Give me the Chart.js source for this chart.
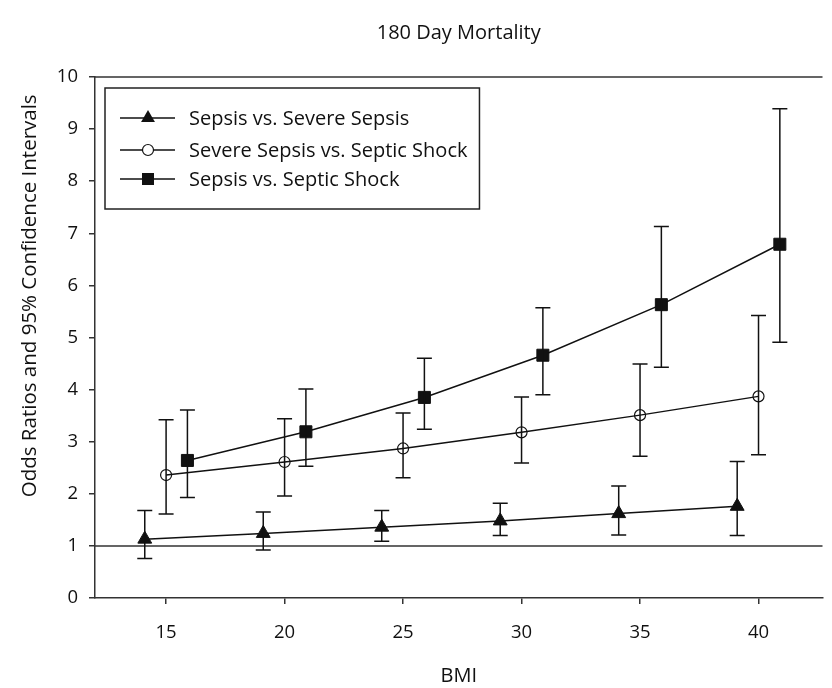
<!DOCTYPE html>
<html>
<head>
<meta charset="utf-8">
<title>180 Day Mortality</title>
<script src="https://cdn.jsdelivr.net/npm/chart.js@4"></script>
<style>
  body { margin: 0; background: #fff; }
  #wrap { width: 832px; height: 688px; }
</style>
</head>
<body>
<div id="wrap"><canvas id="chart" width="832" height="688"></canvas></div>
<script>
// values
const seriesNames = ["Sepsis vs. Severe Sepsis", "Severe Sepsis vs. Septic Shock", "Sepsis vs. Septic Shock"];

const sevBmi = [14.1, 19.1, 24.1, 29.1, 34.1, 39.1];
const sevOR = [1.13, 1.24, 1.36, 1.48, 1.62, 1.76];
const sevLow = [0.76, 0.92, 1.09, 1.20, 1.21, 1.20];
const sevHigh = [1.68, 1.65, 1.68, 1.82, 2.15, 2.62];

const shockBmi = [15, 20, 25, 30, 35, 40];
const shockOR = [2.36, 2.61, 2.87, 3.18, 3.51, 3.87];
const shockLow = [1.61, 1.96, 2.31, 2.59, 2.72, 2.75];
const shockHigh = [3.42, 3.44, 3.55, 3.86, 4.49, 5.42];

const bothBmi = [15.9, 20.9, 25.9, 30.9, 35.9, 40.9];
const bothOR = [2.64, 3.19, 3.85, 4.66, 5.63, 6.79];
const bothLow = [1.93, 2.53, 3.24, 3.90, 4.43, 4.91];
const bothHigh = [3.61, 4.01, 4.60, 5.57, 7.13, 9.39];

const xTicks = [15, 20, 25, 30, 35, 40];
const yTicks = [0, 1, 2, 3, 4, 5, 6, 7, 8, 9, 10];
const refLine = 1;
const yTitle = "Odds Ratios and 95% Confidence Intervals";

const FONT = "'Open Sans', 'Noto Sans', sans-serif";
const INK = "#111";

function points(xs, ys) {
  return xs.map((x, i) => ({ x: x, y: ys[i] }));
}

const errors = [
  { low: sevLow, high: sevHigh },
  { low: shockLow, high: shockHigh },
  { low: bothLow, high: bothHigh }
];

// vertical CI whiskers with caps
const errorBars = {
  id: "errorBars",
  afterDatasetsDraw(chart) {
    const ctx = chart.ctx;
    const ys = chart.scales.y;
    ctx.save();
    ctx.strokeStyle = INK;
    ctx.lineWidth = 1.5;
    chart.data.datasets.forEach((ds, i) => {
      const meta = chart.getDatasetMeta(i);
      meta.data.forEach((pt, j) => {
        const y1 = ys.getPixelForValue(errors[i].low[j]);
        const y2 = ys.getPixelForValue(errors[i].high[j]);
        ctx.beginPath();
        ctx.moveTo(pt.x, y1);
        ctx.lineTo(pt.x, y2);
        ctx.moveTo(pt.x - 7.5, y1);
        ctx.lineTo(pt.x + 7.5, y1);
        ctx.moveTo(pt.x - 7.5, y2);
        ctx.lineTo(pt.x + 7.5, y2);
        ctx.stroke();
      });
    });
    ctx.restore();
  }
};

// reference line at OR = 1, the top frame and the y axis title
const frame = {
  id: "frame",
  beforeDatasetsDraw(chart) {
    const { ctx, chartArea: a } = chart;
    const y = chart.scales.y.getPixelForValue(refLine);
    ctx.save();
    ctx.strokeStyle = "#333";
    ctx.lineWidth = 1.5;
    ctx.beginPath();
    ctx.moveTo(a.left, y);
    ctx.lineTo(a.right, y);
    ctx.moveTo(a.left, a.top);
    ctx.lineTo(a.right, a.top);
    ctx.stroke();
    // title sits a bit above the middle of the axis, as in the original
    ctx.translate(30, a.top + (a.bottom - a.top) * 0.42);
    ctx.rotate(-Math.PI / 2);
    ctx.font = "20.5px " + FONT;
    ctx.fillStyle = INK;
    ctx.textAlign = "center";
    ctx.textBaseline = "middle";
    ctx.fillText(yTitle, 0, 0);
    ctx.restore();
  }
};

function marker(ctx, style, x, y) {
  ctx.beginPath();
  if (style === "triangle") {
    const r = 8;
    ctx.moveTo(x, y - r);
    ctx.lineTo(x + r * 0.866, y + r / 2);
    ctx.lineTo(x - r * 0.866, y + r / 2);
    ctx.closePath();
    ctx.fill();
  } else if (style === "circle") {
    ctx.arc(x, y, 5.5, 0, Math.PI * 2);
    ctx.fillStyle = "#fff";
    ctx.fill();
    ctx.fillStyle = INK;
    ctx.stroke();
  } else {
    ctx.rect(x - 6, y - 6, 12, 12);
    ctx.fill();
  }
}

const boxLegend = {
  id: "boxLegend",
  afterDraw(chart) {
    const { ctx, chartArea: a } = chart;
    const left = a.left + 10, top = a.top + 11;
    ctx.save();
    ctx.font = "20px " + FONT;
    const w = Math.max(...seriesNames.map(s => ctx.measureText(s).width));
    const boxW = 84 + w + 12, boxH = 121;
    ctx.fillStyle = "#fff";
    ctx.fillRect(left, top, boxW, boxH);
    ctx.strokeStyle = "#222";
    ctx.lineWidth = 1.5;
    ctx.strokeRect(left, top, boxW, boxH);
    const rows = [30, 62, 91];
    const styles = ["triangle", "circle", "rect"];
    seriesNames.forEach((name, i) => {
      const y = top + rows[i];
      ctx.strokeStyle = INK;
      ctx.fillStyle = INK;
      ctx.lineWidth = 1.5;
      ctx.beginPath();
      ctx.moveTo(left + 15, y);
      ctx.lineTo(left + 70, y);
      ctx.stroke();
      ctx.lineWidth = 1.2;
      marker(ctx, styles[i], left + 43, y);
      ctx.fillStyle = INK;
      ctx.textBaseline = "middle";
      ctx.textAlign = "left";
      ctx.fillText(name, left + 84, y + 1);
    });
    ctx.restore();
  }
};

const tickGrid = { drawOnChartArea: false, drawTicks: true, tickLength: 6, color: "#333", lineWidth: 1.5 };

new Chart(document.getElementById("chart"), {
  type: "scatter",
  data: {
    datasets: [
      {
        label: seriesNames[0],
        data: points(sevBmi, sevOR),
        showLine: true,
        borderColor: INK,
        borderWidth: 1.5,
        pointStyle: "triangle",
        pointRadius: 8,
        pointBackgroundColor: INK,
        pointBorderColor: INK,
        pointBorderWidth: 1
      },
      {
        label: seriesNames[1],
        data: points(shockBmi, shockOR),
        showLine: true,
        borderColor: INK,
        borderWidth: 1.5,
        pointStyle: "circle",
        pointRadius: 5.5,
        pointBackgroundColor: "rgba(0,0,0,0)",
        pointBorderColor: INK,
        pointBorderWidth: 1.2
      },
      {
        label: seriesNames[2],
        data: points(bothBmi, bothOR),
        showLine: true,
        borderColor: INK,
        borderWidth: 1.5,
        pointStyle: "rect",
        pointRadius: 8.5,
        pointBackgroundColor: INK,
        pointBorderColor: INK,
        pointBorderWidth: 1
      }
    ]
  },
  options: {
    responsive: false,
    animation: false,
    layout: { padding: { left: 0, right: 0, top: 0, bottom: 0 } },
    plugins: {
      legend: { display: false },
      tooltip: { enabled: false },
      title: {
        display: true,
        text: "180 Day Mortality",
        fullSize: false,
        color: INK,
        font: { family: FONT, size: 20, weight: "normal" },
        padding: { top: 21, bottom: 32 }
      }
    },
    scales: {
      x: {
        type: "linear",
        min: 12,
        max: 42.7,
        afterFit(scale) { scale.height = 90; },
        afterBuildTicks(scale) { scale.ticks = xTicks.map(v => ({ value: v })); },
        grid: tickGrid,
        border: { color: "#333", width: 1.5 },
        ticks: { color: INK, font: { family: FONT, size: 18.5 }, padding: 18, maxRotation: 0 },
        title: {
          display: true,
          text: "BMI",
          color: INK,
          font: { family: FONT, size: 20 },
          padding: { top: 0, bottom: 0 }
        }
      },
      y: {
        min: 0,
        max: 10,
        afterFit(scale) { scale.width = 95; },
        afterBuildTicks(scale) { scale.ticks = yTicks.map(v => ({ value: v })); },
        grid: tickGrid,
        border: { color: "#333", width: 1.5 },
        ticks: { color: INK, font: { family: FONT, size: 18.5 }, padding: 11 }
      }
    }
  },
  plugins: [frame, errorBars, boxLegend]
});
</script>
</body>
</html>
